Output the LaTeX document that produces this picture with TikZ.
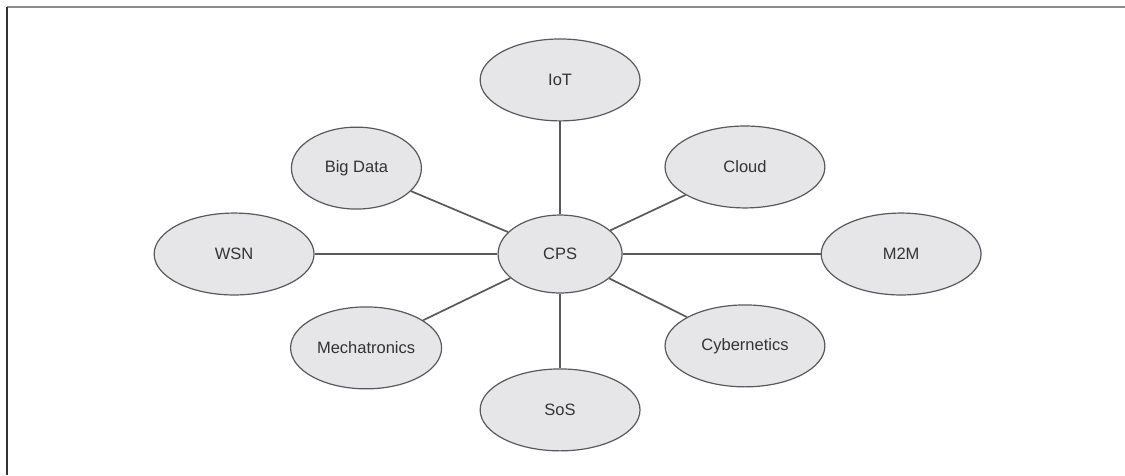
\documentclass[tikz,border=0pt]{standalone}
\usepackage{fontspec}
\setmainfont{Liberation Sans}
\usetikzlibrary{shapes.geometric}
\definecolor{bubblefill}{HTML}{E6E6E8}
\definecolor{edgegray}{HTML}{58595B}
\definecolor{textgray}{HTML}{333333}
\begin{document}
\begin{tikzpicture}[
  bubble/.style={ellipse, draw=edgegray, line width=1.2pt, fill=bubblefill,
    minimum width=5.62cm, minimum height=2.88cm, inner sep=0pt,
    font=\fontsize{16.5}{19}\selectfont, text=textgray},
  link/.style={draw=edgegray, line width=1.7pt}
]
  \useasboundingbox (-19.69,-7.77) rectangle (19.86,8.93);
  % Frame: top and left rules
  \draw[gray!90, line width=2pt] (-19.44,8.68) -- (19.86,8.68);
  \draw[textgray, line width=2pt] (-19.44,8.68) -- (-19.44,-7.77);
  % Hub
  \node[bubble, minimum width=4.36cm, minimum height=2.74cm] (cps) at (0,0) {CPS};
  % Surrounding fields
  \node[bubble] (iot) at (0,6.12) {IoT};
  \node[bubble, minimum width=4.57cm] (bigdata) at (-7.16,3.02) {Big Data};
  \node[bubble] (cloud) at (6.50,3.06) {Cloud};
  \node[bubble] (wsn) at (-11.46,0) {WSN};
  \node[bubble] (mtom) at (11.99,0) {M2M};
  \node[bubble, minimum width=5.31cm] (mech) at (-6.82,-3.30) {Mechatronics};
  \node[bubble] (cyber) at (6.50,-3.23) {Cybernetics};
  \node[bubble] (sos) at (0,-5.48) {SoS};
  % Spokes from the hub
  \foreach \n in {iot,bigdata,cloud,wsn,mtom,mech,cyber,sos}
    \draw[link] (cps) -- (\n);
\end{tikzpicture}
\end{document}
